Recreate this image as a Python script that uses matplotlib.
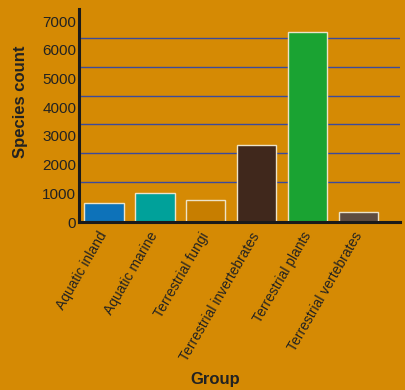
import matplotlib.pyplot as plt

groups = ['Aquatic inland', 'Aquatic marine', 'Terrestrial fungi',
          'Terrestrial invertebrates', 'Terrestrial plants', 'Terrestrial vertebrates']
species = [650, 1000, 770, 2680, 6620, 350]
colors = ['#0D72B9', '#00A19A', '#C77E00', '#40281C', '#1AA332', '#5E4C40']
yticks = [0, 1000, 2000, 3000, 4000, 5000, 6000, 7000]
grid_levels = [1400, 2400, 3400, 4400, 5400, 6400]

bg = '#D58A04'
plt.rcParams['font.family'] = ['Liberation Sans', 'DejaVu Sans']

fig = plt.figure(figsize=(4.06, 3.9), dpi=100, facecolor=bg)
ax = fig.add_axes([79 / 406, 1 - 222 / 390, 321 / 406, 213 / 390])
ax.set_facecolor(bg)

ax.hlines(grid_levels, -0.49, 5.81, color='#3B4A9C', lw=1.0, zorder=1)
ax.bar(range(len(groups)), species, width=0.77, color=colors,
       edgecolor='#EDE3C8', linewidth=1.0, zorder=2)

ax.set_xlim(-0.49, 5.81)
ax.set_ylim(0, 7420)
ax.set_yticks(yticks)
ax.set_xticks(range(len(groups)))
ax.set_xticklabels(groups, rotation=60, ha='right', va='center',
                   rotation_mode='anchor', fontsize=10)
ax.tick_params(axis='y', length=0, labelsize=11, colors='#222222', pad=2)
ax.tick_params(axis='x', length=0, colors='#222222', pad=8)

for s in ['top', 'right']:
    ax.spines[s].set_visible(False)
for s in ['left', 'bottom']:
    ax.spines[s].set_linewidth(2.2)
    ax.spines[s].set_color('#1a1a1a')

ax.set_ylabel('Species count', fontsize=12, fontweight='bold', color='#222222')
ax.yaxis.set_label_coords(-0.16, 0.563)
ax.set_xlabel('Group', fontsize=12, fontweight='bold', color='#222222')
ax.xaxis.set_label_coords(0.424, -0.705)

fig.savefig('out.png', facecolor=bg)
